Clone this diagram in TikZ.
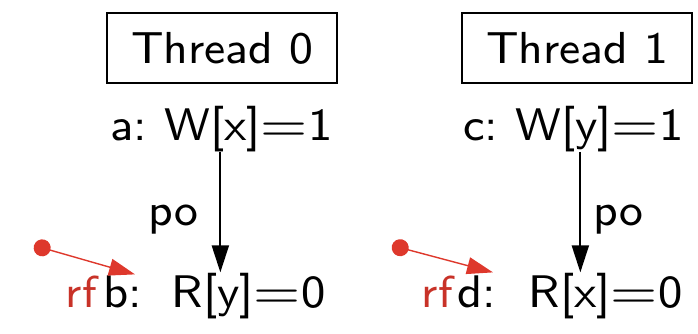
\documentclass[tikz,border=0pt]{standalone}
\usepackage{fontspec}
\usepackage{xcolor}
\usepackage{graphicx}
\usetikzlibrary{arrows.meta}
\usetikzlibrary{positioning, calc}
\newfontfamily\eventfont{lmsans8-regular.otf}
\newcommand{\evtext}[3]{\makebox[#1]{#2\hfill #3}}
\newcommand{\eq}{\scalebox{1.25}[1]{=}}

\begin{document}
\begin{tikzpicture}[font=\eventfont\fontsize{25.5}{30}\selectfont]
  \definecolor{rfcol}{RGB}{222,56,44}
  \tikzstyle{thread}=[draw, line width=0.9pt, minimum width=4.6cm, minimum height=1.4cm, inner sep=0pt]
  \tikzstyle{event}=[inner sep=0pt, anchor=base west, font=\eventfont\fontsize{26}{30}\selectfont]
  \tikzstyle{poedge}=[line width=1.1pt, -{Triangle[length=5.4mm,width=3.4mm]}]
  \tikzstyle{rfedge}=[rfcol, line width=0.8pt, {Circle[length=3.4mm]}-{Triangle[length=5.2mm,width=3.4mm]}]

  \useasboundingbox (0,0) rectangle (13.96,-6.66);

  % THREADS
  \node[thread] (t0) at (4.44,-0.96) {Thread 0};
  \node[thread] (t1) at (11.54,-0.96) {Thread 1};

  % EVENTS
  \node[event] (a) at (2.20,-2.80) {\evtext{4.44cm}{a:}{W[x]\eq1}};
  \node[event] (b) at (2.06,-6.14) {\evtext{4.44cm}{b:}{R[y]\eq0}};
  \node[event] (c) at (9.26,-2.80) {\evtext{4.40cm}{c:}{W[y]\eq1}};
  \node[event] (d) at (9.14,-6.14) {\evtext{4.50cm}{d:}{R[x]\eq0}};

  % PROGRAM ORDER
  \draw[poedge] ([xshift=-0.02cm]a.south) -- ([xshift=-0.02cm]a.south |- b.north)
  node[pos=0.56, left=0.3cm] {po};
  \draw[poedge] ([xshift=0.14cm]c.south) -- ([xshift=0.14cm]c.south |- d.north)
  node[pos=0.56, right=0.12cm] {po};

  % READS FROM
  \coordinate (w0) at (0.68,-4.91);
  \coordinate (w1) at (7.84,-4.91);
  \node[rfcol!90!black, inner sep=0pt, anchor=base east] (rf0) at ([xshift=-0.12cm]b.base west) {rf};
  \node[rfcol!90!black, inner sep=0pt, anchor=base east] (rf1) at ([xshift=-0.08cm]d.base west) {rf};
  \draw[rfedge] (w0) -- ($(b.north west)+(0.64,-0.04)$);
  \draw[rfedge] (w1) -- ($(d.north west)+(0.72,0)$);
\end{tikzpicture}
\end{document}
